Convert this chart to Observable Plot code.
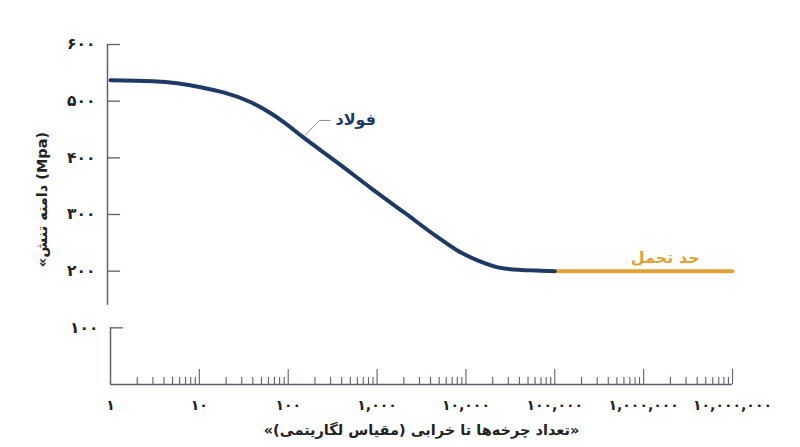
<!DOCTYPE html>
<html>
<head>
<meta charset="utf-8">
<script src="https://cdn.jsdelivr.net/npm/d3@7"></script>
<script src="https://cdn.jsdelivr.net/npm/@observablehq/plot@0.6"></script>
<style>
  html, body { margin: 0; padding: 0; background: #fff; }
  svg { display: block; }
</style>
</head>
<body>
<div id="chart"></div>
<script>
// S-N curve of steel (cycles, stress amplitude MPa)
const cycles = [1, 3, 10, 38, 63, 89, 148, 355, 830, 2000, 4800, 7900, 13500, 26000, 63000, 100000];
const stress = [537, 535, 525, 498, 479, 463, 436, 392, 348, 304, 260, 237, 219, 205, 201, 200];

// Endurance limit
const enduranceCycles = [100000, 10000000];
const enduranceStress = 200;

// Axis ticks
const xMajorTicks = [10, 100, 1000, 10000, 100000, 1000000, 10000000];
const xLabelTicks = [1, 10, 100, 1000, 10000, 100000, 1000000, 10000000];
const xMinorTicks = [];
for (let k = 0; k < 7; k++) for (let m = 2; m <= 9; m++) xMinorTicks.push(m * Math.pow(10, k));
const yUpperTicks = [200, 300, 400, 500, 600];
const yLowerTicks = [100];
const yUpperAxis = [140, 600];
const yLowerAxis = [0, 100];

// Texts
const steelLabel = "فولاد";
const steelLabelPos = { x: 340, y: 467 };
const steelLeader = [{ x: 156, y: 440 }, { x: 224, y: 466 }, { x: 298, y: 466 }];
const enduranceLabel = "حد تحمل";
const enduranceLabelPos = { x: 1750000, y: 224 };
const xTitle = "«تعداد چرخه‌ها تا خرابی (مقیاس لگاریتمی)»";
const yTitle = "«دامنه تنش (Mpa)";

const fa = s => String(s).replace(/\d/g, d => "۰۱۲۳۴۵۶۷۸۹"[+d]);
const fmt = v => fa(d3.format(",")(v));

const curve = cycles.map((c, i) => ({ x: c, y: stress[i] }));
const endurance = enduranceCycles.map(c => ({ x: c, y: enduranceStress }));

const navy = "#1f3966";
const orange = "#e0a236";
const axisColor = "#5b606b";
const W = 800, H = 447, mL = 110, mR = 68, mT = 44, mB = 63;
const fw = W - mL - mR, fh = H - mT - mB;

const chart = Plot.plot({
  width: W, height: H,
  marginLeft: mL, marginRight: mR, marginTop: mT, marginBottom: mB,
  x: { type: "log", domain: [1, 1e7], axis: null },
  y: { domain: [0, 600], axis: null },
  style: { fontFamily: "'DejaVu Sans', sans-serif", background: "#fff" },
  marks: [
    // axes lines
    Plot.ruleX([1], { y1: yUpperAxis[0], y2: yUpperAxis[1], dx: -3, stroke: axisColor, strokeWidth: 1.5 }),
    Plot.ruleX([1], { y1: yLowerAxis[0], y2: yLowerAxis[1], stroke: axisColor, strokeWidth: 1.5 }),
    Plot.ruleY([0], { x1: 1, x2: 1e7, stroke: axisColor, strokeWidth: 1.5 }),
    // y ticks
    Plot.tickY(yUpperTicks, { y: d => d, insetRight: fw - 13, dx: -3, stroke: axisColor, strokeWidth: 1.3 }),
    Plot.tickY(yLowerTicks, { y: d => d, insetRight: fw - 13, stroke: axisColor, strokeWidth: 1.3 }),
    // x ticks
    Plot.tickX(xMinorTicks, { x: d => d, insetTop: fh - 7, stroke: axisColor, strokeWidth: 1.1 }),
    Plot.tickX(xMajorTicks, { x: d => d, insetTop: fh - 15, stroke: axisColor, strokeWidth: 1.1 }),
    // tick labels
    Plot.text(yUpperTicks, { y: d => d, frameAnchor: "left", dx: -15, textAnchor: "end", lineAnchor: "middle", text: fmt, fontSize: 15.5, fontWeight: "bold", fill: "#222" }),
    Plot.text(yLowerTicks, { y: d => d, frameAnchor: "left", dx: -12, textAnchor: "end", lineAnchor: "middle", text: fmt, fontSize: 15.5, fontWeight: "bold", fill: "#222" }),
    Plot.text(xLabelTicks, { x: d => d, frameAnchor: "bottom", dy: 21, lineAnchor: "middle", text: fmt, fontSize: 14, fontWeight: "bold", fill: "#222" }),
    // titles
    Plot.text([xTitle], { frameAnchor: "bottom", dy: 46, textAnchor: "middle", lineAnchor: "middle", text: d => d, fontSize: 14.5, fontWeight: "bold", fill: "#222" }),
    Plot.text([yTitle], { frameAnchor: "left", dx: -68, dy: -15, textAnchor: "middle", lineAnchor: "middle", rotate: -90, text: d => d, fontSize: 14.5, fontWeight: "bold", fill: "#222" }),
    // data
    Plot.line(endurance, { x: "x", y: "y", stroke: orange, strokeWidth: 4 }),
    Plot.line(curve, { x: "x", y: "y", stroke: navy, strokeWidth: 4, curve: "monotone-x" }),
    // annotations
    Plot.line(steelLeader, { x: "x", y: "y", stroke: "#8a8d93", strokeWidth: 1 }),
    Plot.text([steelLabelPos], { x: "x", y: "y", text: () => steelLabel, textAnchor: "start", fontSize: 16, fontWeight: "bold", fill: navy }),
    Plot.text([enduranceLabelPos], { x: "x", y: "y", text: () => enduranceLabel, fontSize: 16, fontWeight: "bold", fill: orange })
  ]
});
document.getElementById("chart").appendChild(chart);
</script>
</body>
</html>
